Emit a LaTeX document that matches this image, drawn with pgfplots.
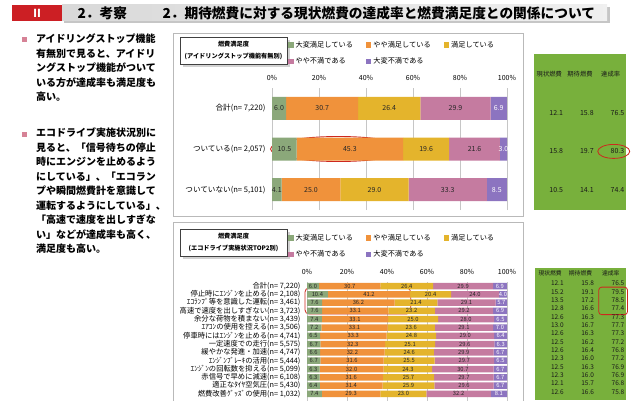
\documentclass[border=0pt]{standalone}
\usepackage{fontspec}
\setmainfont{Noto Sans CJK JP}
\usepackage{pgfplots}
\pgfplotsset{compat=1.18}
\usepackage{pgfplotstable}
\usetikzlibrary{shadows}

\definecolor{cA}{RGB}{139,168,122}
\definecolor{cB}{RGB}{240,146,59}
\definecolor{cC}{RGB}{228,180,44}
\definecolor{cD}{RGB}{197,123,160}
\definecolor{cE}{RGB}{140,116,192}
\definecolor{tgreen}{RGB}{120,176,60}
\definecolor{hdrred}{RGB}{204,31,36}
\definecolor{bull}{RGB}{214,130,150}
\definecolor{redmark}{RGB}{205,40,30}

\pgfplotstableread{
y a b c d e
2 6.0 30.7 26.4 29.9 6.9
1 10.5 45.3 19.6 21.6 3.0
0 4.1 25.0 29.0 33.3 8.5
}\topdata

\pgfplotstableread{
y a b c d e
13 6.0 30.7 26.4 29.9 6.9
12 10.4 41.2 20.4 24.0 4.0
11 7.6 36.2 21.4 29.1 5.7
10 7.6 33.1 23.2 29.2 6.9
9 7.4 33.1 25.0 28.0 6.5
8 7.2 33.1 23.6 29.1 7.0
7 6.5 33.3 24.8 29.0 6.4
6 6.7 32.3 25.1 29.6 6.3
5 6.6 32.2 24.6 29.9 6.7
4 6.7 31.6 25.5 29.7 6.5
3 6.3 32.0 24.3 30.7 6.7
2 6.3 31.6 25.7 29.7 6.7
1 6.4 31.4 25.9 29.6 6.7
0 7.4 29.3 23.0 32.2 8.1
}\ecodata

\pgfplotstableread{
r now exp rate
0 12.1 15.8 76.5
1 15.8 19.7 80.3
2 10.5 14.1 74.4
}\toptable

\pgfplotstableread{
r now exp rate
0 12.1 15.8 76.5
1 15.2 19.1 79.5
2 13.5 17.2 78.5
3 12.8 16.6 77.4
4 12.6 16.3 77.3
5 13.0 16.7 77.7
6 12.6 16.3 77.3
7 12.5 16.2 77.2
8 12.6 16.4 76.8
9 12.3 16.0 77.2
10 12.5 16.3 76.9
11 12.3 16.0 76.9
12 12.1 15.7 76.8
13 12.6 16.6 75.8
}\ecotable

\pgfplotsset{
  sqleg/.style={legend image code/.code={\fill[##1] (0pt,-2.7pt) rectangle (5.4pt,2.7pt);}},
  lblT/.style={draw=none, mark=none, nodes near coords, point meta=explicit symbolic,
     every node near coord/.append style={anchor=center, inner sep=0pt, text=black!85, font=\fontsize{7}{7}\selectfont}},
  lblB/.style={draw=none, mark=none, nodes near coords, point meta=explicit symbolic,
     every node near coord/.append style={anchor=center, inner sep=0pt, text=black!85, font=\fontsize{5.8}{6}\selectfont}},
  cell/.style={draw=none, mark=none, nodes near coords, point meta=explicit symbolic,
     every node near coord/.append style={anchor=east, inner sep=0pt, xshift=-1.5pt, text=black!90, font=#1}},
  topax/.style={scale only axis, width=235pt, height=122pt, at={(272pt,190pt)}, anchor=south west,
     xmin=0, xmax=100, ymin=-0.5, ymax=2.5},
  botax/.style={scale only axis, width=200pt, height=120.35pt, at={(307pt,-2.2pt)}, anchor=south west,
     xmin=0, xmax=100, ymin=-1, ymax=13.5},
  tabax/.style={anchor=south west, scale only axis, xmin=0, xmax=3, y dir=reverse,
     axis background/.style={fill=tgreen}, axis line style={draw=none},
     xtick=\empty, ytick=\empty, minor xtick={1,2}, xminorgrids, yminorgrids,
     tick style={draw=none}, clip=false},
}

\begin{document}
\begin{tikzpicture}[x=1pt,y=1pt]
\useasboundingbox (0,0) rectangle (640,400);
\clip (0,0) rectangle (640,400);
\fill[white] (0,0) rectangle (640,400);

% header
\fill[gray!45] (64,377) rectangle (610,393);
\shade[left color=gray!30, right color=gray!12] (62,379) rectangle (607,395);
\fill[hdrred] (12,379) rectangle (62,395);
\node[text=white, font=\fontsize{11}{11}\selectfont\bfseries] at (37,387) {Ⅱ};
\node[anchor=west, font=\fontsize{13.7}{14}\selectfont\bfseries] at (74,387) {2．考察};
\node[anchor=west, font=\fontsize{13.7}{14}\selectfont\bfseries] at (159,387) {2．期待燃費に対する現状燃費の達成率と燃費満足度との関係について};

% left text
\fill[bull] (21.5,357.5) rectangle (26.5,362.5);
\node[anchor=north west, align=left, inner sep=0pt, font=\fontsize{10}{14.5}\selectfont\bfseries] at (36,366)
 {アイドリングストップ機能\\有無別で見ると、アイドリ\\ングストップ機能がついて\\いる方が達成率も満足度も\\高い。};
\fill[bull] (21.5,263.5) rectangle (26.5,268.5);
\node[anchor=north west, align=left, inner sep=0pt, font=\fontsize{10}{14.5}\selectfont\bfseries] at (36,272)
 {エコドライブ実施状況別に\\見ると、「信号待ちの停止\\時にエンジンを止めるよう\\にしている」、「エコラン\\プや瞬間燃費計を意識して\\運転するようにしている」、\\「高速で速度を出しすぎな\\い」などが達成率も高く、\\満足度も高い。};

% chart frames
\draw[gray!55] (173,367) rectangle (523,184);
\draw[gray!55] (173,178) rectangle (523,-5);

% title boxes
\node[draw=black!75, fill=white, drop shadow={opacity=0.35}, align=center, minimum width=107pt, minimum height=27pt,
  inner sep=1pt, font=\fontsize{6.2}{12}\selectfont\bfseries] at (233.5,349.5)
  {燃費満足度\\(アイドリングストップ機能有無別)};
\node[draw=black!75, fill=white, drop shadow={opacity=0.35}, align=center, minimum width=107pt, minimum height=27pt,
  inner sep=1pt, font=\fontsize{6.2}{12}\selectfont\bfseries] at (233.5,157.5)
  {燃費満足度\\(エコドライブ実施状況TOP2別)};

% ---------- top chart ----------
\begin{axis}[topax,
  xbar stacked, bar width=23pt,
  xtick={0,20,...,100}, xticklabel={\pgfmathprintnumber{\tick}\%}, xticklabel pos=right,
  xticklabel style={font=\fontsize{7}{8}\selectfont, yshift=4pt},
  ytick={0,1,2}, yticklabels={{ついていない(n= 5,101)},{ついている(n= 2,057)},{合計(n= 7,220)}},
  yticklabel style={font=\fontsize{7.6}{8}\selectfont, xshift=-3pt},
  /pgf/number format/assume math mode=true,
  axis line style={draw=none}, tick style={draw=none},
  xmajorgrids, major grid style={gray!45, line width=0.5pt},
  legend columns=3, legend cell align=left,
  legend style={draw=none, fill=none, at={(0.068,1.40)}, anchor=north west,
    font=\fontsize{7.2}{8}\selectfont, inner sep=0pt, row sep=5pt,
    /tikz/every even column/.append style={column sep=11pt}},
  clip=false]
\addplot[fill=cA, draw=none, sqleg] table[x=a,y=y]{\topdata};
\addlegendentry{大変満足している}
\addplot[fill=cB, draw=none, sqleg] table[x=b,y=y]{\topdata};
\addlegendentry{やや満足している}
\addplot[fill=cC, draw=none, sqleg] table[x=c,y=y]{\topdata};
\addlegendentry{満足している}
\addplot[fill=cD, draw=none, sqleg] table[x=d,y=y]{\topdata};
\addlegendentry{やや不満である}
\addplot[fill=cE, draw=none, sqleg] table[x=e,y=y]{\topdata};
\addlegendentry{大変不満である}
\draw[redmark, line width=0.9pt] (axis cs:28.3,1) ellipse [x radius=68pt, y radius=12.5pt];
\end{axis}
\begin{axis}[topax, hide axis, clip=false]
\addplot[lblT] table[x expr=\thisrow{a}/2, y=y, meta=a]{\topdata};
\addplot[lblT] table[x expr=\thisrow{a}+\thisrow{b}/2, y=y, meta=b]{\topdata};
\addplot[lblT] table[x expr=\thisrow{a}+\thisrow{b}+\thisrow{c}/2, y=y, meta=c]{\topdata};
\addplot[lblT] table[x expr=\thisrow{a}+\thisrow{b}+\thisrow{c}+\thisrow{d}/2, y=y, meta=d]{\topdata};
\addplot[lblT, every node near coord/.append style={text=white}] table[x expr=\thisrow{a}+\thisrow{b}+\thisrow{c}+\thisrow{d}+\thisrow{e}/2, y=y, meta=e]{\topdata};
\end{axis}

% ---------- bottom chart ----------
\begin{axis}[botax,
  xbar stacked, bar width=6.5pt,
  xtick={0,20,...,100}, xticklabel={\pgfmathprintnumber{\tick}\%}, xticklabel pos=right,
  xticklabel style={font=\fontsize{7}{8}\selectfont, yshift=4pt},
  ytick={0,...,13},
  yticklabels={{燃費改善ｸﾞｯｽﾞの使用(n= 1,032)},{適正なﾀｲﾔ空気圧(n= 5,430)},{赤信号で早めに減速(n= 6,108)},
    {ｴﾝｼﾞﾝの回転数を抑える(n= 5,099)},{ｴﾝｼﾞﾝﾌﾞﾚｰｷの活用(n= 5,444)},{緩やかな発進・加速(n= 4,747)},
    {一定速度での走行(n= 5,575)},{停車時にはｴﾝｼﾞﾝを止める(n= 4,741)},{ｴｱｺﾝの使用を控える(n= 3,506)},
    {余分な荷物を積まない(n= 3,439)},{高速で速度を出しすぎない(n= 3,723)},{ｴｺﾗﾝﾌﾟ等を意識した運転(n= 3,461)},
    {停止時にｴﾝｼﾞﾝを止める(n= 2,108)},{合計(n= 7,220)}},
  yticklabel style={font=\fontsize{7.3}{7.5}\selectfont, xshift=-3pt},
  /pgf/number format/assume math mode=true,
  axis line style={draw=none}, tick style={draw=none},
  xmajorgrids, major grid style={gray!45, line width=0.5pt},
  legend columns=3, legend cell align=left,
  legend style={draw=none, fill=none, at={(-0.095,1.415)}, anchor=north west,
    font=\fontsize{7.2}{8}\selectfont, inner sep=0pt, row sep=5pt,
    /tikz/every even column/.append style={column sep=11pt}},
  clip=false]
\addplot[fill=cA, draw=none, sqleg] table[x=a,y=y]{\ecodata};
\addlegendentry{大変満足している}
\addplot[fill=cB, draw=none, sqleg] table[x=b,y=y]{\ecodata};
\addlegendentry{やや満足している}
\addplot[fill=cC, draw=none, sqleg] table[x=c,y=y]{\ecodata};
\addlegendentry{満足している}
\addplot[fill=cD, draw=none, sqleg] table[x=d,y=y]{\ecodata};
\addlegendentry{やや不満である}
\addplot[fill=cE, draw=none, sqleg] table[x=e,y=y]{\ecodata};
\addlegendentry{大変不満である}
\draw[redmark, line width=0.8pt, rounded corners=4pt] (axis cs:-1,12.76) rectangle (axis cs:51.85,9.63);
\end{axis}
\begin{axis}[botax, hide axis, clip=false]
\addplot[lblB] table[x expr=\thisrow{a}/2, y=y, meta=a]{\ecodata};
\addplot[lblB] table[x expr=\thisrow{a}+\thisrow{b}/2, y=y, meta=b]{\ecodata};
\addplot[lblB] table[x expr=\thisrow{a}+\thisrow{b}+\thisrow{c}/2, y=y, meta=c]{\ecodata};
\addplot[lblB] table[x expr=\thisrow{a}+\thisrow{b}+\thisrow{c}+\thisrow{d}/2, y=y, meta=d]{\ecodata};
\addplot[lblB, every node near coord/.append style={text=white}] table[x expr=\thisrow{a}+\thisrow{b}+\thisrow{c}+\thisrow{d}+\thisrow{e}/2, y=y, meta=e]{\ecodata};
\end{axis}

% ---------- top table ----------
\begin{axis}[tabax, width=92pt, height=155.2pt, at={(534pt,190.4pt)},
  ymin=-1.5, ymax=2.5, minor ytick={-0.5,0.5,1.5},
  minor grid style={white, line width=1.3pt}]
\addplot[draw=none, mark=none, nodes near coords, point meta=explicit symbolic,
  every node near coord/.append style={anchor=center, inner sep=0pt, text=black!90, font=\fontsize{6.3}{7}\selectfont}]
  coordinates {(0.5,-1) [現状燃費] (1.5,-1) [期待燃費] (2.5,-1) [達成率]};
\addplot[cell=\fontsize{7}{7}\selectfont] table[x expr=1, y=r, meta=now]{\toptable};
\addplot[cell=\fontsize{7}{7}\selectfont] table[x expr=2, y=r, meta=exp]{\toptable};
\addplot[cell=\fontsize{7}{7}\selectfont] table[x expr=3, y=r, meta=rate]{\toptable};
\draw[redmark, line width=0.8pt] (axis cs:2.6,1) ellipse [x radius=16pt, y radius=7pt];
\end{axis}

% ---------- bottom table ----------
\begin{axis}[tabax, width=91pt, height=131.9pt, at={(535pt,-0.1pt)},
  ymin=-1.82, ymax=14, minor ytick={-0.5,0.5,...,13.5},
  minor grid style={white, line width=0.8pt}]
\addplot[draw=none, mark=none, nodes near coords, point meta=explicit symbolic,
  every node near coord/.append style={anchor=center, inner sep=0pt, text=black!90, font=\fontsize{5.8}{6}\selectfont}]
  coordinates {(0.5,-1.16) [現状燃費] (1.5,-1.16) [期待燃費] (2.5,-1.16) [達成率]};
\addplot[cell=\fontsize{6.5}{7}\selectfont] table[x expr=1, y=r, meta=now]{\ecotable};
\addplot[cell=\fontsize{6.5}{7}\selectfont] table[x expr=2, y=r, meta=exp]{\ecotable};
\addplot[cell=\fontsize{6.5}{7}\selectfont] table[x expr=3, y=r, meta=rate]{\ecotable};
\draw[redmark, line width=0.8pt, rounded corners=3pt] (axis cs:2.1,0.45) rectangle (axis cs:3.05,3.75);
\end{axis}
\end{tikzpicture}
\end{document}
